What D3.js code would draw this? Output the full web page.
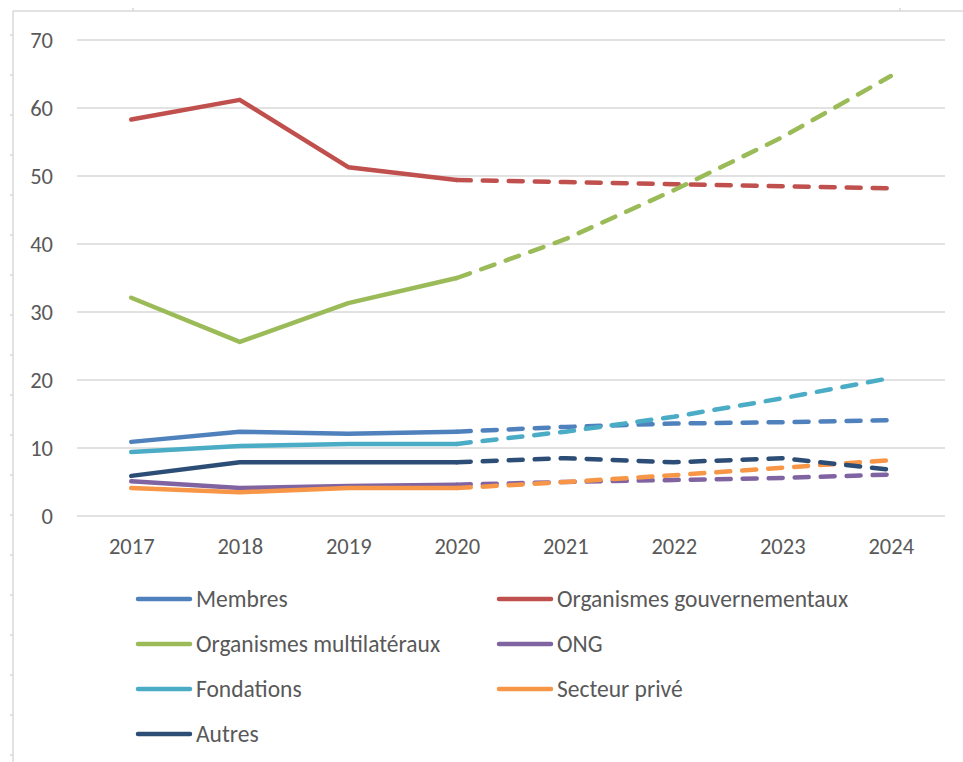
<!DOCTYPE html>
<html>
<head>
<meta charset="utf-8">
<script src="https://cdn.jsdelivr.net/npm/d3@7"></script>
<style>
  body { margin: 0; background: #fff; }
  svg text { font-family: Carlito, 'Liberation Sans', Arial, sans-serif; fill: #595959; }
</style>
</head>
<body>
<div id="content"></div>
<script>
// years, first 4 are actual, the rest projected (dashed)
var years = ["2017", "2018", "2019", "2020", "2021", "2022", "2023", "2024"];
var yTicks = [0, 10, 20, 30, 40, 50, 60, 70];

var membres = [10.9, 12.4, 12.1, 12.4, 13.1, 13.6, 13.8, 14.1];
var gouvernementaux = [58.3, 61.2, 51.3, 49.4, 49.1, 48.8, 48.5, 48.2];
var multilateraux = [32.1, 25.6, 31.3, 35.0, 40.7, 47.9, 55.7, 64.7];
var ong = [5.1, 4.1, 4.4, 4.6, 5.0, 5.3, 5.6, 6.1];
var fondations = [9.4, 10.3, 10.6, 10.6, 12.4, 14.6, 17.3, 20.3];
var secteurPrive = [4.1, 3.5, 4.1, 4.1, 5.0, 6.0, 7.1, 8.2];
var autres = [5.9, 7.9, 7.9, 7.9, 8.5, 7.9, 8.5, 6.8];

var seriesNames = ["Membres", "Organismes gouvernementaux", "Organismes multilatéraux", "ONG", "Fondations", "Secteur privé", "Autres"];
var seriesValues = [membres, gouvernementaux, multilateraux, ong, fondations, secteurPrive, autres];
var seriesColors = ["#4F81BD", "#C0504D", "#9BBB59", "#8064A2", "#4BACC6", "#F79646", "#2C4D75"];
var lastActual = "2020";

var svg = d3.select("#content").append("svg").attr("width", 963).attr("height", 762);

// chart frame (only left and top edges visible)
var frame = svg.append("g").attr("stroke", "#d9d9d9").attr("stroke-width", 1.5);
frame.append("line").attr("x1", 13).attr("x2", 13).attr("y1", 11).attr("y2", 762);
frame.append("line").attr("x1", 13).attr("x2", 963).attr("y1", 11).attr("y2", 11);
d3.range(35, 762, 40).forEach(function(t) {
    frame.append("line").attr("x1", 10).attr("x2", 13).attr("y1", t).attr("y2", t);
});
[133, 900].forEach(function(t) {
    frame.append("line").attr("x1", t).attr("x2", t).attr("y1", 8).attr("y2", 11);
});

var plotLeft = 77, plotRight = 945, plotTop = 40, plotBottom = 516;

var x = d3.scalePoint().domain(years).range([plotLeft, plotRight]).padding(0.5);
var y = d3.scaleLinear().domain([0, 70]).range([plotBottom, plotTop]);

// gridlines
svg.append("g")
    .selectAll("line")
    .data(yTicks)
    .enter().append("line")
    .attr("x1", plotLeft).attr("x2", plotRight)
    .attr("y1", function(d) { return y(d); })
    .attr("y2", function(d) { return y(d); })
    .attr("stroke", "#d9d9d9")
    .attr("stroke-width", 1.5);

var yAxis = svg.append("g")
    .attr("transform", "translate(" + (plotLeft - 24) + ",0)")
    .call(d3.axisLeft(y).tickValues(yTicks).tickSize(0).tickPadding(0));
yAxis.select(".domain").remove();
yAxis.selectAll("text").attr("font-size", 22.5).attr("dy", "0.35em")
    .style("font-family", "Carlito, 'Liberation Sans', Arial, sans-serif").attr("fill", "#595959");

var xAxis = svg.append("g")
    .attr("transform", "translate(0," + plotBottom + ")")
    .call(d3.axisBottom(x).tickSize(0).tickPadding(0));
xAxis.select(".domain").remove();
xAxis.selectAll("text").attr("font-size", 22.5).attr("y", 38).attr("dy", 0)
    .style("font-family", "Carlito, 'Liberation Sans', Arial, sans-serif").attr("fill", "#595959");

var line = d3.line()
    .x(function(d) { return x(d.year); })
    .y(function(d) { return y(d.value); });

var cut = years.indexOf(lastActual);

seriesValues.forEach(function(vals, i) {
    var pts = years.map(function(yr, j) { return {year: yr, value: vals[j]}; });
    var g = svg.append("g")
        .attr("fill", "none")
        .attr("stroke", seriesColors[i])
        .attr("stroke-width", 4.5)
        .attr("stroke-linecap", "round")
        .attr("stroke-linejoin", "round");
    g.append("path").attr("d", line(pts.slice(0, cut + 1)));
    g.append("path").attr("d", line(pts.slice(cut)))
        .attr("stroke-dasharray", "14,12");
});

// legend, 2 columns
var legend = svg.selectAll(".legend")
    .data(seriesNames)
    .enter().append("g")
    .attr("class", "legend")
    .attr("transform", function(d, i) {
        var col = i % 2, row = Math.floor(i / 2);
        return "translate(" + (col === 0 ? 137 : 498) + "," + (599 + row * 45) + ")";
    });

legend.append("line")
    .attr("x1", 1).attr("x2", 53)
    .attr("stroke", function(d, i) { return seriesColors[i]; })
    .attr("stroke-width", 4.5)
    .attr("stroke-linecap", "round");

legend.append("text")
    .attr("x", 59)
    .attr("dy", "0.35em")
    .attr("font-size", 23.5)
    .text(function(d) { return d; });
</script>
</body>
</html>
